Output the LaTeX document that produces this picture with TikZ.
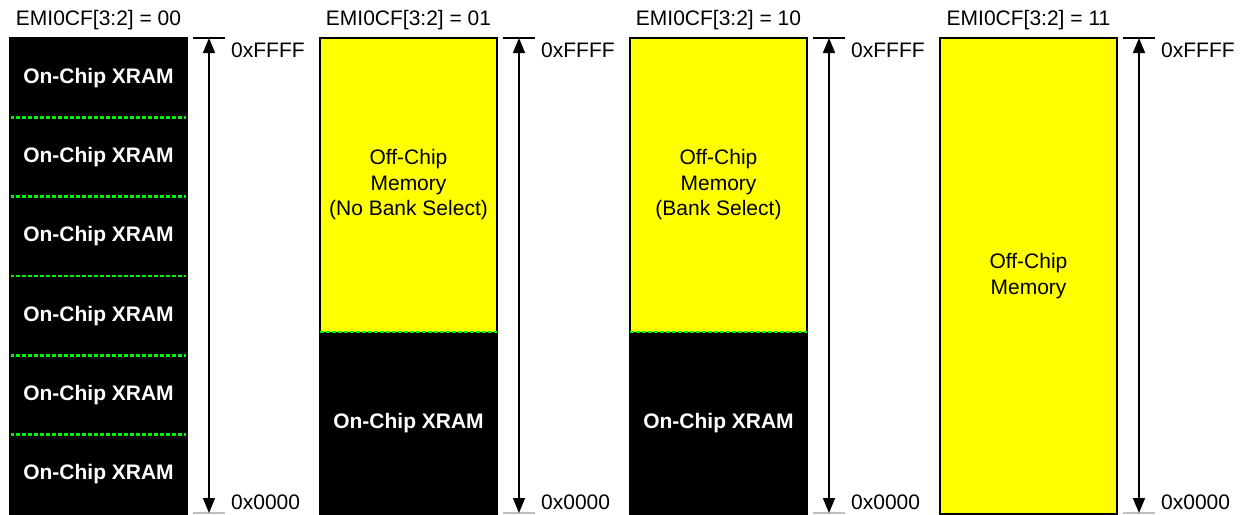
\documentclass[tikz,border=0pt]{standalone}
\usepackage{fontspec}
\setmainfont{Liberation Sans}
\usetikzlibrary{arrows.meta,positioning}
\definecolor{bankgreen}{RGB}{0,245,0}
\definecolor{offyellow}{RGB}{255,255,0}

\begin{document}
\begin{tikzpicture}[x=1pt, y=-1pt,
    every node/.style={font=\fontsize{21}{25.5}\selectfont},
    xram/.style={fill=black, text=white, font=\fontsize{21}{25.5}\selectfont\bfseries,
        minimum width=177pt, inner sep=0pt, outer sep=0pt},
    offchip/.style={fill=offyellow, align=center, minimum width=177pt, inner sep=0pt, outer sep=0pt},
    border/.style={draw=black, line width=1.2pt},
    bankline/.style={bankgreen, line width=2.8pt, dash pattern=on 4pt off 2pt},
    addrspan/.style={{Triangle[width=12pt,length=15pt]}-{Triangle[width=12pt,length=15pt]}, line width=1.6pt},
    tickline/.style={line width=1.6pt},
    addr/.style={anchor=west, inner sep=0pt}]
    \useasboundingbox (0,0) rectangle (1242,514);

    % EMI0CF[3:2] = 00 : on-chip XRAM repeated
    \node[anchor=base] (t1) at (98.5,25) {EMI0CF[3:2] = 00};
    \node[xram, minimum height=79.33pt] (x1a) at (98.5,77.67) {On-Chip XRAM};
    \node[xram, minimum height=79.33pt, below=0pt of x1a] (x1b) {On-Chip XRAM};
    \node[xram, minimum height=79.33pt, below=0pt of x1b] (x1c) {On-Chip XRAM};
    \node[xram, minimum height=79.33pt, below=0pt of x1c] (x1d) {On-Chip XRAM};
    \node[xram, minimum height=79.33pt, below=0pt of x1d] (x1e) {On-Chip XRAM};
    \node[xram, minimum height=79.33pt, below=0pt of x1e] (x1f) {On-Chip XRAM};
    \draw[bankline] (x1a.south west) -- (x1a.south east);
    \draw[bankline] (x1b.south west) -- (x1b.south east);
    \draw[bankline] (x1c.south west) -- (x1c.south east);
    \draw[bankline] (x1d.south west) -- (x1d.south east);
    \draw[bankline] (x1e.south west) -- (x1e.south east);
    \draw[border] (x1a.north west) rectangle (x1f.south east);

    % EMI0CF[3:2] = 01 : off-chip, no bank select
    \node[anchor=base] (t2) at (408.5,25) {EMI0CF[3:2] = 01};
    \node[offchip, minimum height=294pt] (off2) at (408.5,185) {Off-Chip\\Memory\\(No Bank Select)};
    \node[xram, minimum height=182pt, below=0pt of off2] (x2) {On-Chip XRAM};
    \draw[border] (off2.north west) rectangle (x2.south east);
    \draw[bankline] (off2.south west) -- (off2.south east);

    % EMI0CF[3:2] = 10 : off-chip, bank select
    \node[anchor=base] (t3) at (718.5,25) {EMI0CF[3:2] = 10};
    \node[offchip, minimum height=294pt] (off3) at (718.5,185) {Off-Chip\\Memory\\(Bank Select)};
    \node[xram, minimum height=182pt, below=0pt of off3] (x3) {On-Chip XRAM};
    \draw[border] (off3.north west) rectangle (x3.south east);
    \draw[bankline] (off3.south west) -- (off3.south east);

    % EMI0CF[3:2] = 11 : off-chip only
    \node[anchor=base] (t4) at (1028.5,25) {EMI0CF[3:2] = 11};
    \node[offchip, minimum height=476pt] (off4) at (1028.5,276) {Off-Chip\\Memory};
    \draw[border] (off4.north west) rectangle (off4.south east);

    % address ranges
    \coordinate (top1) at (209,38);  \coordinate (bot1) at (209,513);
    \coordinate (top2) at (519,38);  \coordinate (bot2) at (519,513);
    \coordinate (top3) at (829,38);  \coordinate (bot3) at (829,513);
    \coordinate (top4) at (1139,38); \coordinate (bot4) at (1139,513);

    \draw[tickline] ([xshift=-16pt]top1) -- ([xshift=16pt]top1);
    \draw[tickline, gray!50] ([xshift=-16pt]bot1) -- ([xshift=16pt]bot1);
    \draw[addrspan] (top1) -- (bot1);
    \node[addr] (hi1) at (231,50) {0xFFFF};
    \node[addr] (lo1) at (231,502) {0x0000};

    \draw[tickline] ([xshift=-16pt]top2) -- ([xshift=16pt]top2);
    \draw[tickline, gray!50] ([xshift=-16pt]bot2) -- ([xshift=16pt]bot2);
    \draw[addrspan] (top2) -- (bot2);
    \node[addr] (hi2) at (541,50) {0xFFFF};
    \node[addr] (lo2) at (541,502) {0x0000};

    \draw[tickline] ([xshift=-16pt]top3) -- ([xshift=16pt]top3);
    \draw[tickline, gray!50] ([xshift=-16pt]bot3) -- ([xshift=16pt]bot3);
    \draw[addrspan] (top3) -- (bot3);
    \node[addr] (hi3) at (851,50) {0xFFFF};
    \node[addr] (lo3) at (851,502) {0x0000};

    \draw[tickline] ([xshift=-16pt]top4) -- ([xshift=16pt]top4);
    \draw[tickline, gray!50] ([xshift=-16pt]bot4) -- ([xshift=16pt]bot4);
    \draw[addrspan] (top4) -- (bot4);
    \node[addr] (hi4) at (1161,50) {0xFFFF};
    \node[addr] (lo4) at (1161,502) {0x0000};
\end{tikzpicture}
\end{document}
